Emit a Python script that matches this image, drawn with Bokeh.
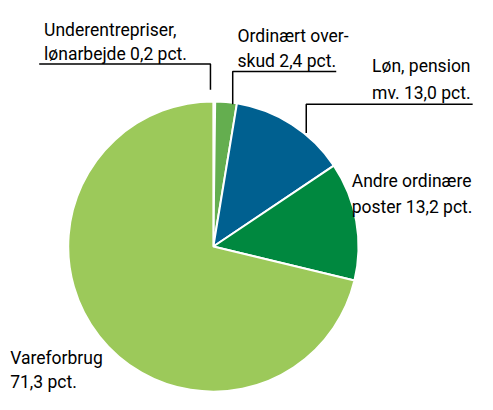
import math
from bokeh.plotting import figure
from bokeh.models import Range1d, ColumnDataSource
from bokeh.core.properties import value
from bokeh.embed import file_html
from bokeh.resources import INLINE

# ---- data ----
categories = ["Underentrepriser, lønarbejde", "Ordinært overskud", "Løn, pension mv.",
              "Andre ordinære poster", "Vareforbrug"]
shares = [0.2, 2.4, 13.0, 13.2, 71.3]
colors = ["#9cc95a", "#64ae4f", "#006090", "#00883f", "#9cc95a"]
label_lines = [
    ["Underentrepriser,", "lønarbejde 0,2 pct."],
    ["Ordinært over-", "skud 2,4 pct."],
    ["Løn, pension", "mv. 13,0 pct."],
    ["Andre ordinære", "poster 13,2 pct."],
    ["Vareforbrug", "71,3 pct."],
]

# ---- layout (reference-picture coordinates; y grows downward, mapped to -y) ----
W, H = 477, 394
RW, RH = 493, 410
CX, CY, R = 220, 256, 150
FONT = "Roboto"
FS = "17.5px"
label_pos = [(45, 31, 25), (245, 37, 26), (384, 68, 28), (363, 188, 27), (10, 372, 25)]
leaders = [
    ([40, 217, 217], [66, 66, 93]),
    ([347, 240, 240], [74, 74, 108]),
    ([488, 316, 316], [108, 108, 138]),
]

p = figure(width=W, height=H, output_backend="svg", toolbar_location=None,
           x_range=Range1d(0, RW), y_range=Range1d(-RH, 0),
           min_border=0, outline_line_color=None)
p.axis.visible = False
p.grid.visible = False

total = sum(shares)
starts, ends = [], []
cum = 0.0
for s in shares:
    starts.append(math.pi / 2 - cum / total * 2 * math.pi)
    cum += s
    ends.append(math.pi / 2 - cum / total * 2 * math.pi)

src = ColumnDataSource(dict(start=starts, end=ends, color=colors, cat=categories))
p.wedge(x=CX, y=-CY, radius=R, start_angle="start", end_angle="end",
        direction="clock", fill_color="color", line_color="white", line_width=2,
        source=src)

for xs, ys in leaders:
    p.line(xs, [-y for y in ys], line_color="black", line_width=1.5)

tx, ty, tt = [], [], []
for (x, y, dy), lines in zip(label_pos, label_lines):
    for i, t in enumerate(lines):
        tx.append(x)
        ty.append(-(y + i * dy))
        tt.append(t)
p.text(x=tx, y=ty, text=tt, text_font=value(FONT), text_font_size=FS,
       text_baseline="alphabetic", text_align="left", text_color="black")

open("out.html", "w").write(file_html(p, INLINE))
